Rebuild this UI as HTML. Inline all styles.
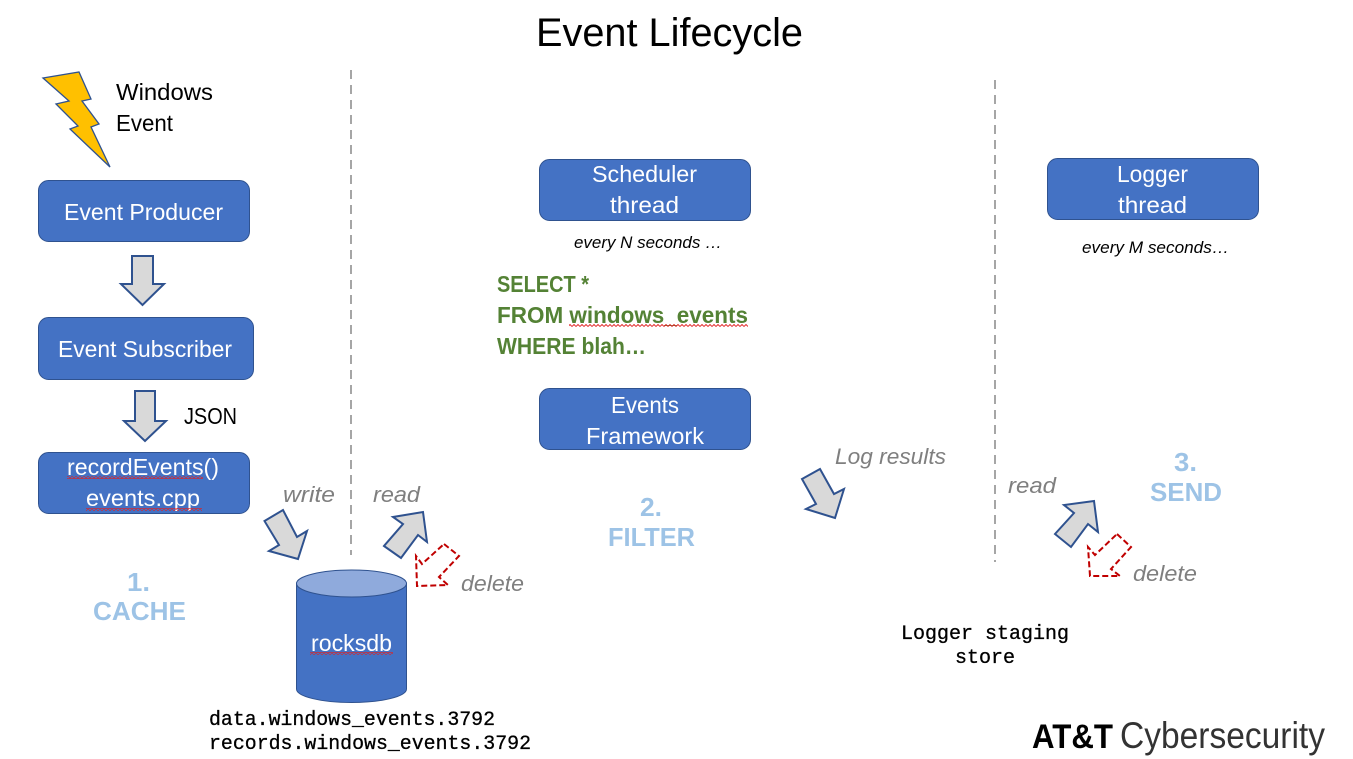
<!DOCTYPE html>
<html><head><meta charset="utf-8"><style>
html,body{margin:0;padding:0;background:#fff;width:1353px;height:759px;overflow:hidden}
svg{display:block}
text{font-family:"Liberation Sans",sans-serif}
.w{fill:#fff;font-size:23px}
.k{fill:#000;font-size:23px}
.g{fill:#7f7f7f;font-size:22px;font-style:italic}
.i{fill:#000;font-size:17px;font-style:italic}
.b{fill:#9dc3e6;font-size:26px;font-weight:bold}
.q{fill:#548235;font-size:23px;font-weight:bold}
.m{font-family:"Liberation Mono",monospace;font-size:20px;fill:#000;stroke:#000;stroke-width:.3}
.box{fill:#4472c4;stroke:#2f528f;stroke-width:1}
.ar{fill:#d9d9d9;stroke:#2f528f;stroke-width:2}
.del{fill:#fff;stroke:#c00000;stroke-width:2;stroke-dasharray:6 3}
.dl{stroke:#a6a6a6;stroke-width:2;stroke-dasharray:9 6}
</style></head><body>
<svg width="1353" height="759" viewBox="0 0 1353 759" xmlns="http://www.w3.org/2000/svg">
<defs><pattern id="z" width="4" height="3" patternUnits="userSpaceOnUse"><path d="M0 2.5L2 .5L4 2.5" fill="none" stroke="#e02020" stroke-width=".9"/></pattern></defs>

<text x="536" y="46" font-size="40" textLength="267" lengthAdjust="spacingAndGlyphs">Event Lifecycle</text>

<line class="dl" x1="351" y1="70" x2="351" y2="555"/>
<line class="dl" x1="995" y1="80" x2="995" y2="562"/>

<polygon points="43,78 79,72 91,99 82,101 99,124 91,127 110,167 70,129 78,126 56,104 69,101" fill="#ffc000" stroke="#2f528f" stroke-width="1.3"/>
<text class="k" x="116" y="100" textLength="97" lengthAdjust="spacingAndGlyphs">Windows</text>
<text class="k" x="116" y="131" textLength="57" lengthAdjust="spacingAndGlyphs">Event</text>

<rect class="box" x="38.5" y="180.5" width="211" height="61" rx="10"/>
<text class="w" x="64" y="220" textLength="159" lengthAdjust="spacingAndGlyphs">Event Producer</text>
<polygon class="ar" points="132,256 153,256 153,284 164,284 142.5,305 121,284 132,284"/>

<rect class="box" x="38.5" y="317.5" width="215" height="62" rx="10"/>
<text class="w" x="58" y="357" textLength="174" lengthAdjust="spacingAndGlyphs">Event Subscriber</text>
<polygon class="ar" points="135,391 155,391 155,421 166,421 145,441 124,421 135,421"/>
<text class="k" x="184" y="424" textLength="53" lengthAdjust="spacingAndGlyphs">JSON</text>

<rect class="box" x="38.5" y="452.5" width="211" height="61" rx="10"/>
<text class="w" x="67" y="475" textLength="152" lengthAdjust="spacingAndGlyphs">recordEvents()</text>
<text class="w" x="86" y="506" textLength="114" lengthAdjust="spacingAndGlyphs">events.cpp</text>
<rect x="67" y="476" width="136" height="3" fill="url(#z)"/>
<rect x="86" y="508" width="116" height="3" fill="url(#z)"/>

<text class="g" x="283" y="502" textLength="52" lengthAdjust="spacingAndGlyphs">write</text>
<text class="g" x="373" y="502" textLength="47" lengthAdjust="spacingAndGlyphs">read</text>
<polygon class="ar" points="264.5,521 283,510 297,537 307,531 298,559 269,551 279,545"/>
<polygon class="ar" points="384,546 401,558 418,535 427,542 423,512 393,517 403,524"/>
<polygon class="del" points="444,544 459,556 439,577 448,585 417,586 416,556 422,564"/>
<text class="g" x="461" y="591" textLength="63" lengthAdjust="spacingAndGlyphs">delete</text>

<text class="b" x="127" y="591" textLength="23" lengthAdjust="spacingAndGlyphs">1.</text>
<text class="b" x="93" y="620" textLength="93" lengthAdjust="spacingAndGlyphs">CACHE</text>

<path d="M296.5 583V689C296.5 696.5 321 702.5 351.5 702.5S406.5 696.5 406.5 689V583Z" class="box"/>
<ellipse cx="351.5" cy="583.5" rx="55" ry="13.5" fill="#8faadc" stroke="#2f528f" stroke-width="1"/>
<text class="w" x="311" y="651" textLength="81" lengthAdjust="spacingAndGlyphs">rocksdb</text>
<rect x="310" y="652" width="83" height="3" fill="url(#z)"/>

<text class="m" x="209" y="725" textLength="286" lengthAdjust="spacingAndGlyphs">data.windows_events.3792</text>
<text class="m" x="209" y="749" textLength="322" lengthAdjust="spacingAndGlyphs">records.windows_events.3792</text>

<rect class="box" x="539.5" y="159.5" width="211" height="61" rx="10"/>
<text class="w" x="592" y="182" textLength="105" lengthAdjust="spacingAndGlyphs">Scheduler</text>
<text class="w" x="610" y="213" textLength="69" lengthAdjust="spacingAndGlyphs">thread</text>
<text class="i" x="574" y="248" textLength="148" lengthAdjust="spacingAndGlyphs">every N seconds …</text>

<text class="q" x="497" y="292" textLength="92" lengthAdjust="spacingAndGlyphs">SELECT *</text>
<text class="q" x="497" y="323" textLength="251" lengthAdjust="spacingAndGlyphs">FROM windows_events</text>
<text class="q" x="497" y="354" textLength="149" lengthAdjust="spacingAndGlyphs">WHERE blah…</text>
<rect x="569" y="324" width="179" height="3" fill="url(#z)"/>

<rect class="box" x="539.5" y="388.5" width="211" height="61" rx="10"/>
<text class="w" x="611" y="413" textLength="68" lengthAdjust="spacingAndGlyphs">Events</text>
<text class="w" x="586" y="444" textLength="118" lengthAdjust="spacingAndGlyphs">Framework</text>

<text class="b" x="640" y="516" textLength="22" lengthAdjust="spacingAndGlyphs">2.</text>
<text class="b" x="608" y="546" textLength="87" lengthAdjust="spacingAndGlyphs">FILTER</text>

<text class="g" x="835" y="464" textLength="111" lengthAdjust="spacingAndGlyphs">Log results</text>
<polygon class="ar" points="802,479 820,469 834,494 844,489 835,518 806,509 816,504"/>

<text class="g" x="1008" y="493" textLength="48" lengthAdjust="spacingAndGlyphs">read</text>
<polygon class="ar" points="1055,534 1071,547 1088,524 1098,532 1094,501 1064,505 1074,513"/>
<polygon class="del" points="1117,534 1131,547 1111,569 1120,576 1090,576 1088,547 1095,555"/>
<text class="g" x="1133" y="581" textLength="64" lengthAdjust="spacingAndGlyphs">delete</text>

<text class="b" x="1174" y="471" textLength="23" lengthAdjust="spacingAndGlyphs">3.</text>
<text class="b" x="1150" y="501" textLength="72" lengthAdjust="spacingAndGlyphs">SEND</text>

<rect class="box" x="1047.5" y="158.5" width="211" height="61" rx="10"/>
<text class="w" x="1117" y="182" textLength="71" lengthAdjust="spacingAndGlyphs">Logger</text>
<text class="w" x="1118" y="213" textLength="69" lengthAdjust="spacingAndGlyphs">thread</text>
<text class="i" x="1082" y="253" textLength="147" lengthAdjust="spacingAndGlyphs">every M seconds…</text>

<text class="m" x="901" y="639" textLength="168" lengthAdjust="spacingAndGlyphs">Logger staging</text>
<text class="m" x="955" y="663" textLength="60" lengthAdjust="spacingAndGlyphs">store</text>

<text x="1032" y="748" font-size="34" font-weight="bold" textLength="81" lengthAdjust="spacingAndGlyphs">AT&amp;T</text>
<text x="1120" y="748" font-size="37" fill="#333" textLength="205" lengthAdjust="spacingAndGlyphs">Cybersecurity</text>
</svg>
</body></html>
